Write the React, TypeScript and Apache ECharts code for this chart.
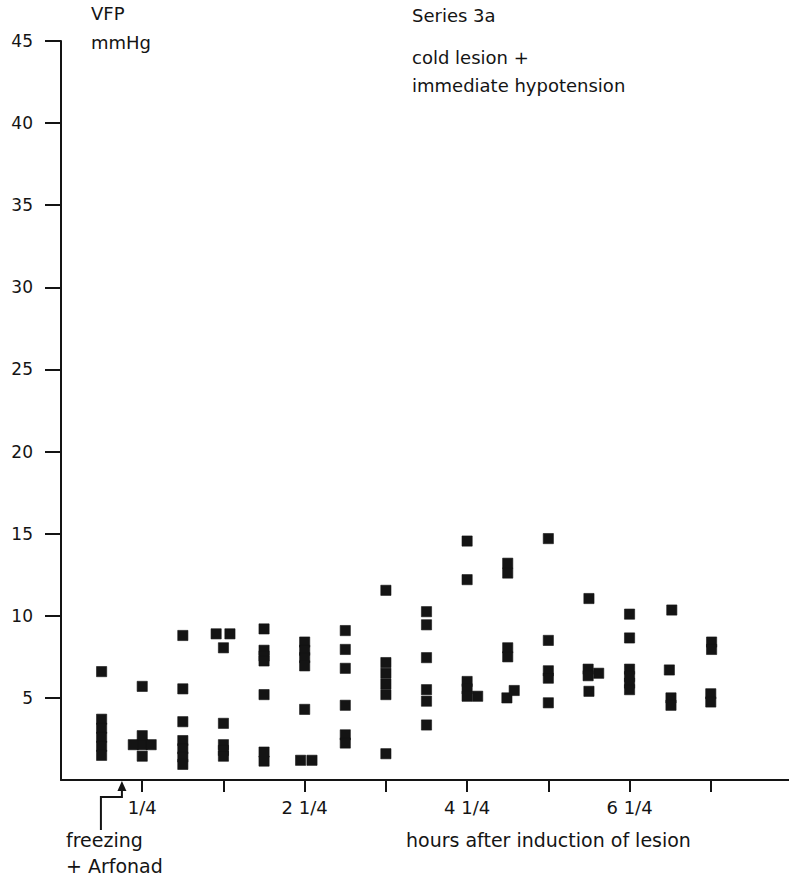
import React, { useEffect, useRef } from "react";
import * as echarts from "echarts";

// ---- axis ticks and labels ----
const yTickValues = [5, 10, 15, 20, 25, 30, 35, 40, 45];
const xTickHours = [0.25, 1.25, 2.25, 3.25, 4.25, 5.25, 6.25, 7.25];
const xLabelHours = [0.25, 2.25, 4.25, 6.25];
const xLabelTexts = ["1/4", "2 1/4", "4 1/4", "6 1/4"];
const freezingHour = 0;

// ---- VFP (mmHg) readings, [hours after induction, mmHg] ----
const colM025 = [[-0.25, 6.6], [-0.25, 3.7], [-0.25, 3.15], [-0.25, 2.6], [-0.25, 2.05], [-0.25, 1.5]];
const col025 = [[0.25, 5.7], [0.25, 2.7], [0.25, 2.15], [0.25, 1.45], [0.14, 2.15], [0.36, 2.15]];
const col075 = [[0.75, 8.8], [0.75, 5.55], [0.75, 3.55], [0.75, 2.4], [0.75, 1.9], [0.75, 1.4], [0.75, 0.95]];
const col125 = [[1.16, 8.9], [1.33, 8.9], [1.25, 8.05], [1.25, 3.45], [1.25, 2.15], [1.25, 1.8], [1.25, 1.45]];
const col175 = [[1.75, 9.2], [1.75, 7.9], [1.75, 7.55], [1.75, 7.25], [1.75, 5.2], [1.75, 1.7], [1.75, 1.15]];
const col225 = [[2.25, 8.4], [2.25, 7.9], [2.25, 7.45], [2.25, 6.95], [2.25, 4.3], [2.2, 1.2], [2.34, 1.2]];
const col275 = [[2.75, 9.1], [2.75, 7.95], [2.75, 6.8], [2.75, 4.55], [2.75, 2.75], [2.75, 2.25]];
const col325 = [[3.25, 11.55], [3.25, 7.15], [3.25, 6.5], [3.25, 5.85], [3.25, 5.2], [3.25, 1.6]];
const col375 = [[3.75, 10.25], [3.75, 9.45], [3.75, 7.45], [3.75, 5.5], [3.75, 4.8], [3.75, 3.35]];
const col425 = [[4.25, 14.55], [4.25, 12.2], [4.25, 6.0], [4.25, 5.55], [4.25, 5.1], [4.38, 5.1]];
const col475 = [[4.75, 13.2], [4.75, 12.6], [4.75, 8.05], [4.75, 7.5], [4.74, 5.0], [4.83, 5.45]];
const col525 = [[5.25, 14.7], [5.25, 8.5], [5.25, 6.65], [5.25, 6.2], [5.25, 4.7]];
const col575 = [[5.75, 11.05], [5.74, 6.75], [5.74, 6.35], [5.87, 6.5], [5.75, 5.4]];
const col625 = [[6.25, 10.1], [6.25, 8.65], [6.25, 6.75], [6.25, 6.3], [6.25, 5.9], [6.25, 5.5]];
const col675 = [[6.77, 10.35], [6.74, 6.7], [6.76, 5.0], [6.76, 4.55]];
const col725 = [[7.26, 8.4], [7.26, 7.95], [7.25, 5.25], [7.25, 4.75]];

const allPoints = [
  ...colM025, ...col025, ...col075, ...col125, ...col175, ...col225, ...col275, ...col325,
  ...col375, ...col425, ...col475, ...col525, ...col575, ...col625, ...col675, ...col725,
];

const FONT = "DejaVu Sans";
const INK = "#141414";

export default function App() {
  const ref = useRef<HTMLDivElement>(null);
  useEffect(() => {
    const chart = echarts.init(ref.current!, null, { renderer: "svg" });
    chart.setOption({
      animation: false,
      backgroundColor: "#ffffff",
      grid: { left: 61, top: 41, width: 731, height: 739, outerBoundsMode: "none" },
      xAxis: {
        type: "value",
        min: -0.75,
        max: 8.25,
        splitLine: { show: false },
        axisLine: { show: true, onZero: false, lineStyle: { color: INK, width: 2 } },
        axisTick: { show: true, customValues: xTickHours, length: 12, lineStyle: { color: INK, width: 2 } },
        axisLabel: {
          show: true,
          customValues: xLabelHours,
          margin: 18,
          fontFamily: FONT,
          fontSize: 18,
          color: INK,
          formatter: (v: number) => {
            const i = xLabelHours.indexOf(v);
            return i >= 0 ? xLabelTexts[i] : "";
          },
        },
      },
      yAxis: {
        type: "value",
        min: 0,
        max: 45,
        splitLine: { show: false },
        axisLine: { show: true, onZero: false, lineStyle: { color: INK, width: 2 } },
        axisTick: { show: true, customValues: yTickValues, length: 16, lineStyle: { color: INK, width: 2 } },
        axisLabel: {
          show: true,
          customValues: yTickValues,
          margin: 28,
          fontFamily: FONT,
          fontSize: 17,
          color: INK,
        },
      },
      series: [
        {
          type: "scatter",
          data: allPoints,
          symbol: "rect",
          symbolSize: 10.2,
          itemStyle: { color: INK, opacity: 1, borderColor: INK, borderWidth: 0.6 },
          emphasis: { disabled: true },
        },
      ],
    });

    const [ax, ay] = chart.convertToPixel({ gridIndex: 0 }, [freezingHour, 0]) as number[];
    const textStyle = (text: string, size: number) => ({
      text,
      fontFamily: FONT,
      fontSize: size,
      fill: INK,
      verticalAlign: "middle",
      align: "left",
    });
    chart.setOption({
      graphic: [
        { type: "text", x: 91, y: 13, style: textStyle("VFP", 18) },
        { type: "text", x: 91, y: 42, style: textStyle("mmHg", 18) },
        { type: "text", x: 412, y: 15, style: textStyle("Series 3a", 18) },
        { type: "text", x: 412, y: 57, style: textStyle("cold lesion +", 18) },
        { type: "text", x: 412, y: 85, style: textStyle("immediate hypotension", 18) },
        { type: "text", x: 66, y: 840, style: textStyle("freezing", 19) },
        { type: "text", x: 66, y: 866, style: textStyle("+ Arfonad", 19) },
        { type: "text", x: 406, y: 840, style: textStyle("hours after induction of lesion", 19) },
        {
          type: "polygon",
          shape: { points: [[ax, ay + 1], [ax - 4.5, ay + 11], [ax + 4.5, ay + 11]] },
          style: { fill: INK },
        },
        {
          type: "polyline",
          shape: { points: [[ax, ay + 10], [ax, ay + 17], [ax - 21, ay + 17], [ax - 21, ay + 50]] },
          style: { stroke: INK, lineWidth: 2, fill: "none" },
        },
      ],
    });
    return () => chart.dispose();
  }, []);
  return (
    <div
      ref={ref}
      style={{ position: "absolute", left: 0, top: 0, width: 789, height: 878 }}
    />
  );
}
